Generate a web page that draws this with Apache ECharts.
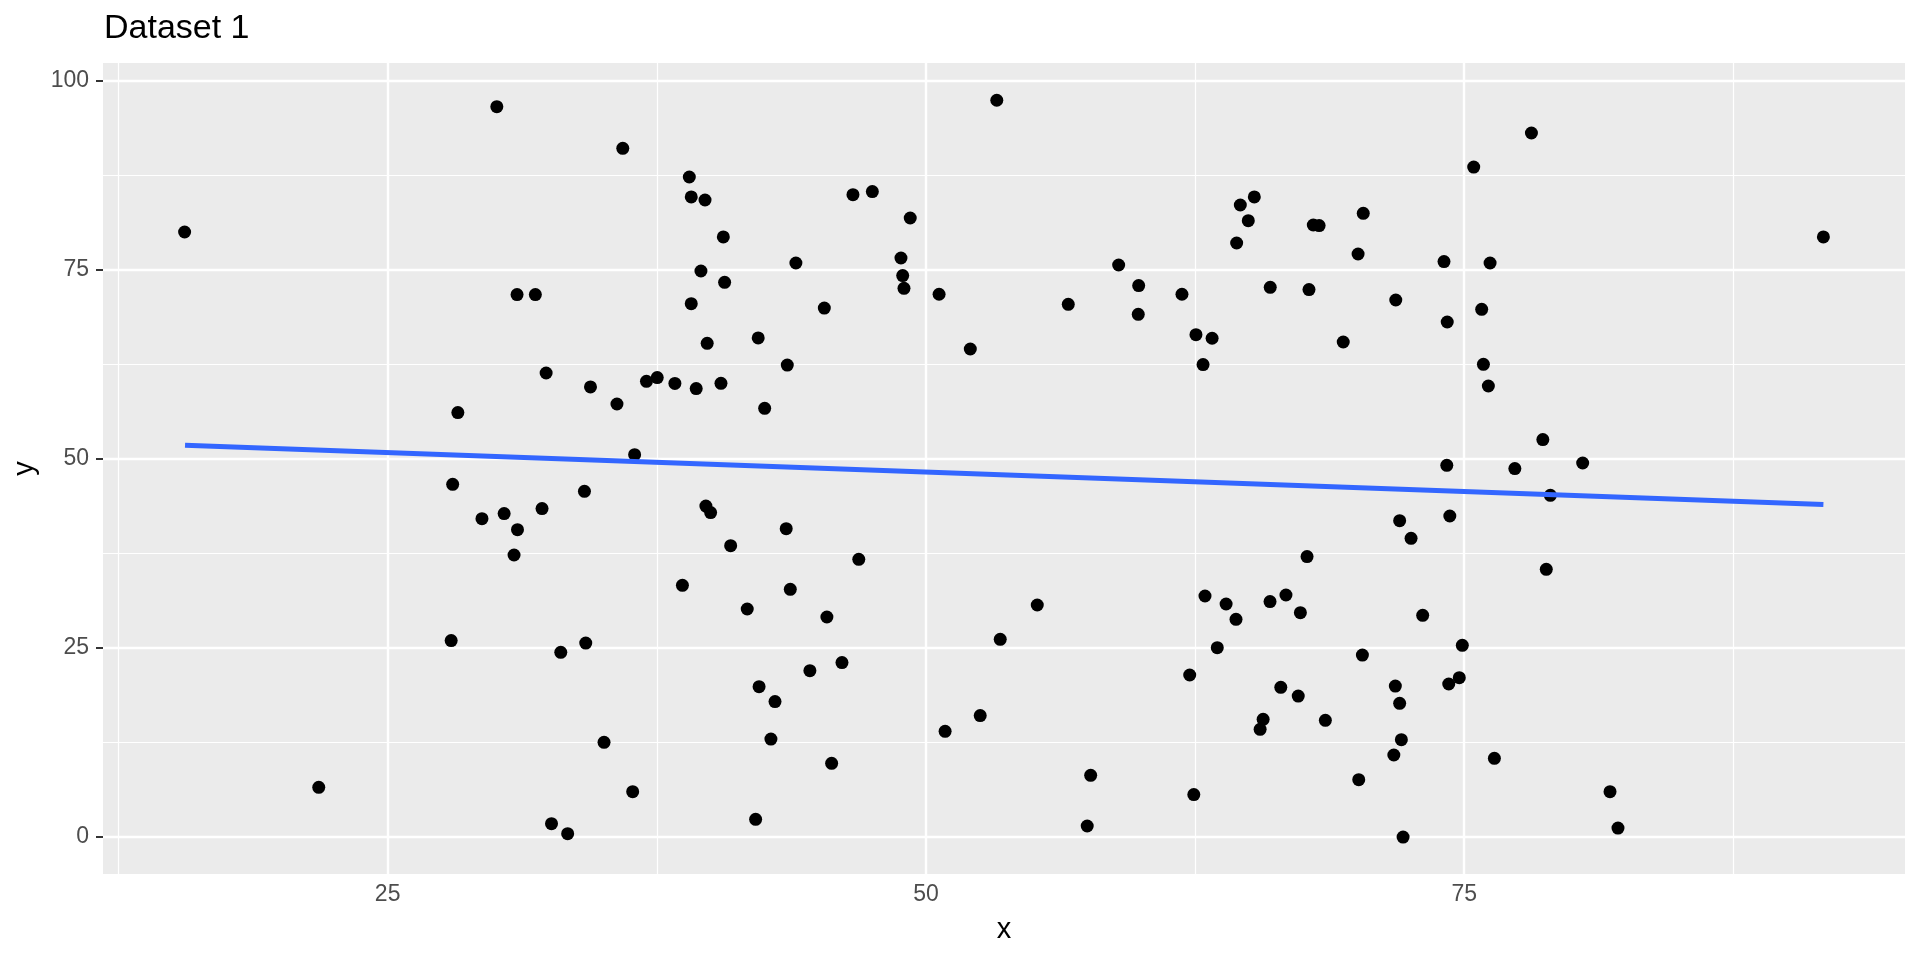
<!DOCTYPE html>
<html>
<head>
<meta charset="utf-8">
<script src="https://cdn.jsdelivr.net/npm/echarts@6/dist/echarts.min.js"></script>
<style>
  html, body { margin: 0; padding: 0; background: #ffffff; }
  #chart { width: 1920px; height: 960px; }
</style>
</head>
<body>
<div id="chart"></div>
<script>
// ---- data ----
const pointX = [
  15.57, 21.80, 30.07, 35.92, 39.01, 39.10, 39.74, 31.01, 31.86, 39.10,
  39.55, 32.36, 34.42, 35.65, 37.02, 37.52, 38.34, 39.33, 28.26, 36.47,
  28.02, 34.14, 29.38, 30.41, 32.17, 31.03, 30.87, 38.69, 27.95, 33.04,
  34.20, 35.05, 36.38, 32.61, 33.36,
  53.29, 40.59, 40.65, 43.96, 46.61, 47.51, 49.27, 48.84, 48.92, 48.98,
  50.61, 56.61, 45.28, 52.06, 39.84, 42.21, 43.56, 40.48, 42.51,
  75.44, 65.25, 64.60, 64.97, 64.43, 67.99, 68.26, 70.31, 70.07, 74.06,
  76.20, 58.95, 59.88, 59.86, 61.89, 65.99, 67.79, 71.82, 75.81, 74.21,
  62.54, 63.29, 62.87, 69.38, 75.89, 76.12, 74.19,
  78.12, 91.68, 78.65, 80.50, 77.35,
  39.78, 40.00, 43.51, 40.93, 46.88, 43.70, 41.70, 45.40, 55.17, 53.45,
  46.10, 44.61, 42.25, 42.99, 42.80, 45.62, 42.09, 52.52, 50.89, 57.65,
  57.49,
  72.00, 74.33, 72.53, 67.70, 62.96, 63.94, 64.40, 65.98, 66.72, 67.39,
  73.07, 63.53, 62.25, 74.91, 70.27, 66.48, 67.29, 71.80, 72.00, 74.28,
  74.77, 65.66, 65.52, 68.55, 72.08, 71.73, 76.40, 70.10, 62.44, 72.16,
  79.00, 78.81, 81.77, 82.14
];
const pointY = [
  80.03, 6.57, 96.60, 91.10, 87.30, 84.66, 84.26, 71.75, 71.75, 70.55,
  74.87, 61.38, 59.53, 57.28, 60.28, 60.77, 60.00, 59.31, 56.14, 50.58,
  46.65, 45.73, 42.11, 42.78, 43.44, 40.66, 37.30, 33.29, 25.98, 24.43,
  25.66, 12.53, 6.00, 1.77, 0.45,
  97.45, 79.37, 73.37, 75.93, 84.97, 85.37, 81.88, 76.59, 74.26, 72.58,
  71.79, 70.46, 69.97, 64.55, 65.30, 66.01, 62.43, 60.01, 56.71,
  88.62, 84.66, 83.60, 81.53, 78.57, 80.95, 80.87, 82.50, 77.12, 76.11,
  75.93, 75.66, 72.94, 69.14, 71.79, 72.71, 72.41, 71.03, 69.80, 68.12,
  66.45, 65.97, 62.49, 65.48, 62.53, 59.66, 49.17,
  93.12, 79.37, 52.57, 49.47, 48.73,
  43.78, 42.91, 40.79, 38.54, 36.73, 32.76, 30.16, 29.10, 30.69, 26.15,
  23.07, 22.01, 19.89, 17.91, 12.96, 9.75, 2.34, 16.06, 13.98, 8.16,
  1.46,
  41.85, 42.46, 39.51, 37.09, 31.88, 30.82, 28.80, 31.14, 32.01, 29.68,
  29.33, 25.05, 21.43, 25.36, 24.07, 19.80, 18.65, 19.97, 17.69, 20.24,
  21.08, 15.57, 14.25, 15.44, 12.88, 10.85, 10.41, 7.59, 5.61, 0.00,
  45.20, 35.41, 6.00, 1.19
];
// linear fit line (endpoints)
const fitX = [15.59, 91.68];
const fitY = [51.81, 43.97];

const xTicks = [25, 50, 75];
const yTicks = [0, 25, 50, 75, 100];
const xMinor = [12.5, 37.5, 62.5, 87.5];
const yMinor = [12.5, 37.5, 62.5, 87.5];
const xLimits = [11.78, 95.47];
const yLimits = [-4.89, 102.38];

const titleText = 'Dataset 1';
const xName = 'x';
const yName = 'y';

// ---- build ----
const FONT = 'Liberation Sans, Arial, Helvetica, sans-serif';
const points = pointX.map((x, i) => [x, pointY[i]]);
const fitData = fitX.map((x, i) => [x, fitY[i]]);

const gridLines = [];
xMinor.forEach(v => gridLines.push({ xAxis: v, lineStyle: { width: 1.2 } }));
yMinor.forEach(v => gridLines.push({ yAxis: v, lineStyle: { width: 1.2 } }));
xTicks.forEach(v => gridLines.push({ xAxis: v, lineStyle: { width: 2.4 } }));
yTicks.forEach(v => gridLines.push({ yAxis: v, lineStyle: { width: 2.4 } }));

const chart = echarts.init(document.getElementById('chart'), null, { renderer: 'canvas' });
chart.setOption({
  animation: false,
  backgroundColor: '#ffffff',
  title: {
    text: titleText,
    left: 104,
    top: 12,
    padding: 0,
    textStyle: { fontFamily: FONT, fontSize: 34, fontWeight: 'normal', color: '#000000' }
  },
  grid: {
    left: 103, right: 15, top: 63, bottom: 86,
    show: true, backgroundColor: '#EBEBEB', borderWidth: 0,
    containLabel: false
  },
  xAxis: {
    type: 'value',
    min: xLimits[0], max: xLimits[1],
    name: xName, nameLocation: 'middle', nameGap: 41,
    nameTextStyle: { fontFamily: FONT, fontSize: 29, color: '#000000' },
    axisLine: { show: false },
    axisTick: { show: true, customValues: xTicks, length: 7, lineStyle: { color: '#333333', width: 2 } },
    axisLabel: { customValues: xTicks, margin: 9, fontFamily: FONT, fontSize: 23, color: '#4D4D4D' },
    splitLine: { show: false }
  },
  yAxis: {
    type: 'value',
    min: yLimits[0], max: yLimits[1],
    name: yName, nameLocation: 'middle', nameGap: 47, nameRotate: 90,
    nameTextStyle: { fontFamily: FONT, fontSize: 29, color: '#000000' },
    axisLine: { show: false },
    axisTick: { show: true, customValues: yTicks, length: 7, lineStyle: { color: '#333333', width: 2 } },
    axisLabel: { customValues: yTicks, margin: 14, fontFamily: FONT, fontSize: 23, color: '#4D4D4D' },
    splitLine: { show: false }
  },
  series: [
    {
      type: 'line',
      data: [],
      z: 1,
      silent: true,
      markLine: {
        z: 1,
        silent: true,
        symbol: ['none', 'none'],
        label: { show: false },
        animation: false,
        lineStyle: { color: '#ffffff', type: 'solid', width: 2.4 },
        emphasis: { disabled: true },
        data: gridLines
      }
    },
    {
      type: 'scatter',
      data: points,
      symbol: 'circle',
      symbolSize: 13,
      z: 3,
      itemStyle: { color: '#000000', opacity: 1 },
      silent: true
    },
    {
      type: 'line',
      data: fitData,
      showSymbol: false,
      z: 4,
      silent: true,
      lineStyle: { color: '#3366FF', width: 5 }
    }
  ]
});
</script>
</body>
</html>
